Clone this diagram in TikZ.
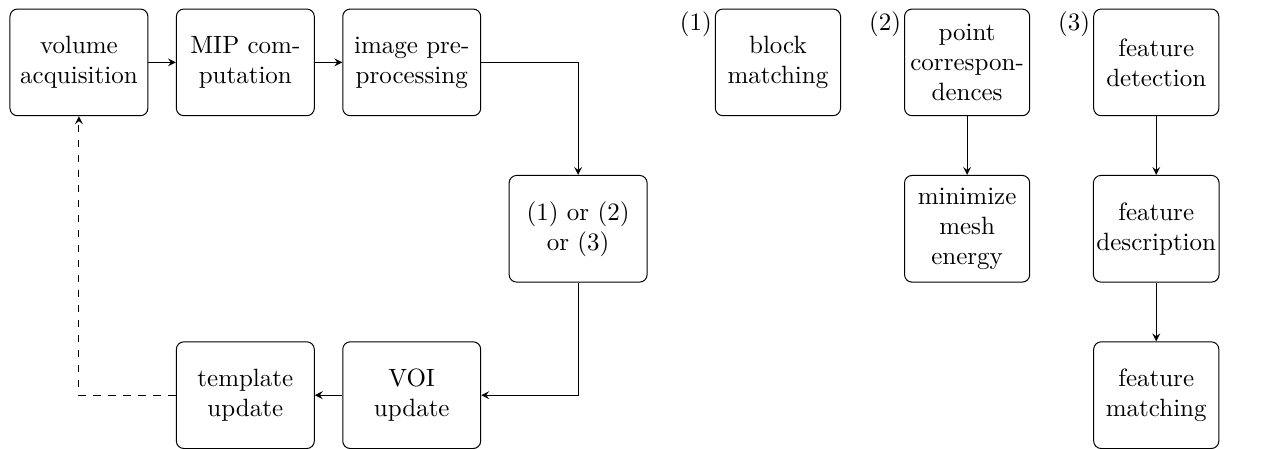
\documentclass[tikz,border=0pt]{standalone}
\usepackage{tikz}
\usetikzlibrary{arrows}
\tikzstyle{stage} = [rectangle, rounded corners=3pt, minimum width=1.94cm, minimum height=1.5cm, align=center, draw=black]
\tikzstyle{method} = [rectangle, rounded corners=3pt, minimum width=1.76cm, minimum height=1.5cm, inner xsep=1.2pt, align=center, draw=black]
\tikzstyle{tag} = [anchor=north east, inner sep=1pt]
\tikzstyle{flow} = [->, >=stealth]

\begin{document}
\begin{tikzpicture}[node distance=2.34cm]
\useasboundingbox (0,0) rectangle (17.93,-6.31);

\node at (1.11,-0.877) (acq) [stage] {volume\\acquisition};

\node (mip) [stage, right of=acq] {MIP com-\\putation};
\draw[flow](acq) -- (mip);

\node (prep) [stage, right of=mip] {image pre-\\processing};
\draw[flow](mip) -- (prep);

\node (choice) [stage, right of=prep, below of=prep] {(1) or (2)\\or (3)};
\draw[flow](prep.east) -| (choice.north);

\node (voi) [stage, below of=choice, left of=choice] {VOI\\update};
\draw[flow](choice.south) |- (voi.east);

\node (tmpl) [stage, left of=voi] {template\\update};
\draw[flow](voi) -- (tmpl);
\draw[flow,dashed](tmpl.west) -| (acq.south);

% alternatives
\node at (10.94,-0.877) (blk) [method] {block\\matching};
\node [tag] at (blk.north west) {(1)};

\node (pts) [method, right of=blk, node distance=2.66cm] {point\\correspon-\\dences};
\node [tag] at (pts.north west) {(2)};
\node (mesh) [method, below of=pts] {minimize\\mesh\\energy};
\draw[flow](pts) -- (mesh);

\node (fdet) [method, right of=pts, node distance=2.66cm] {feature\\detection};
\node [tag] at (fdet.north west) {(3)};
\node (fdesc) [method, below of=fdet] {feature\\description};
\draw[flow](fdet) -- (fdesc);
\node (fmat) [method, below of=fdesc] {feature\\matching};
\draw[flow](fdesc) -- (fmat);

\end{tikzpicture}
\end{document}
